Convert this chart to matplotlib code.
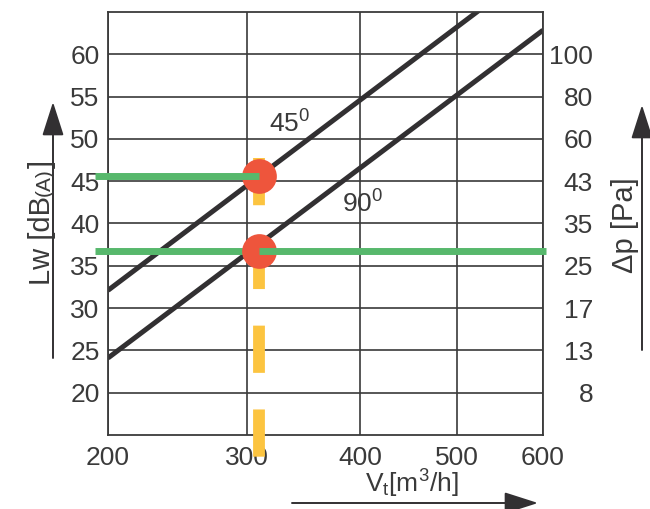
import numpy as np
import matplotlib
matplotlib.use("Agg")
import matplotlib.pyplot as plt

plt.rcParams['font.family'] = ['Liberation Sans', 'DejaVu Sans']
plt.rcParams['mathtext.fontset'] = 'custom'
plt.rcParams['mathtext.rm'] = 'Liberation Sans'
plt.rcParams['mathtext.it'] = 'Liberation Sans'

# ── data ──────────────────────────────────────────────────────────────────────
flow_ticks = [200, 300, 400, 500, 600]          # V_t [m3/h]
lw_ticks   = [20, 25, 30, 35, 40, 45, 50, 55, 60]  # Lw [dB(A)]
dp_labels  = ["8", "13", "17", "25", "35", "43", "60", "80", "100"]  # Δp [Pa]

line_x   = [200, 600]
line_45  = [32.1, 70.9]
line_90  = [24.1, 62.85]

op_flow  = 310          # operating point flow
op_lw    = [45.6, 36.7] # Lw read at 45° and 90°
guide_x0 = 192          # green guide lines start (left of axis)
guide_x1 = 604          # lower guide runs to the right edge
dash_y   = [47.7, 11.8]

INK   = "#3a3a3a"
DARK  = "#323032"
GREEN = "#57b86c"
RED   = "#ee553c"
GOLD  = "#fcc440"

W, H = 650, 509
fig = plt.figure(figsize=(W / 100, H / 100), dpi=100)
ax = fig.add_axes([108 / W, (H - 435) / H, 435 / W, 423 / H])

# slightly compressed flow axis (the chart is neither linear nor log)
ax.set_xscale("function", functions=(lambda v: np.power(np.abs(v), 0.4),
                                     lambda v: np.power(np.abs(v), 2.5)))
ax.set_xlim(200, 600)
ax.set_ylim(15, 65)
ax.set_xticks(flow_ticks)
ax.set_xticklabels([str(v) for v in flow_ticks])
ax.set_yticks(lw_ticks)
ax.set_yticklabels([str(v) for v in lw_ticks])
ax.xaxis.set_minor_locator(matplotlib.ticker.NullLocator())
ax.tick_params(length=0, labelsize=19, colors=INK)
ax.tick_params(axis="y", pad=6)
ax.tick_params(axis="x", pad=8)
ax.grid(True, color=INK, linewidth=1.2)
ax.set_axisbelow(True)
for sp in ax.spines.values():
    sp.set_color(INK)
    sp.set_linewidth(1.3)

ax2 = ax.twinx()
ax2.set_ylim(ax.get_ylim())
ax2.set_yticks(lw_ticks)
ax2.set_yticklabels(dp_labels, ha="right")
ax2.tick_params(length=0, labelsize=19, colors=INK, pad=36)
for sp in ax2.spines.values():
    sp.set_visible(False)

# ── curves ────────────────────────────────────────────────────────────────────
ax.plot(line_x, line_45, color=DARK, linewidth=3.6, solid_capstyle="butt", zorder=2)
ax.plot(line_x, line_90, color=DARK, linewidth=3.6, solid_capstyle="butt", zorder=2)
ax.text(336, 51.8, r"45$^\mathregular{0}$", fontsize=19, color=INK, ha="center", va="center")
ax.text(403, 42.3, r"90$^\mathregular{0}$", fontsize=19, color=INK, ha="center", va="center")

# ── operating point overlay ───────────────────────────────────────────────────
ax.plot([op_flow, op_flow], dash_y, color=GOLD, linewidth=8.5,
        linestyle=(0, (4.0, 3.1)), dash_capstyle="butt", clip_on=False, zorder=3)
ax.plot([guide_x0, op_flow], [op_lw[1], op_lw[1]], color=GREEN, linewidth=5,
        solid_capstyle="butt", clip_on=False, zorder=3.5)
ax.plot([op_flow] * 2, op_lw, "o", color=RED, markersize=25, markeredgewidth=0,
        clip_on=False, zorder=4)
ax.plot([guide_x0, op_flow], [op_lw[0], op_lw[0]], color=GREEN, linewidth=5,
        solid_capstyle="butt", clip_on=False, zorder=5)
ax.plot([op_flow, guide_x1], [op_lw[1], op_lw[1]], color=GREEN, linewidth=5,
        solid_capstyle="butt", clip_on=False, zorder=5)

# ── axis titles and arrows (figure pixels, origin bottom-left) ───────────────
def arrow(tail, tip):
    ax.annotate("", xy=(tip[0], H - tip[1]), xytext=(tail[0], H - tail[1]),
                xycoords="figure pixels", textcoords="figure pixels",
                arrowprops=dict(arrowstyle="-|>,head_length=1.0,head_width=0.32",
                                mutation_scale=21, color=DARK, lw=1.4,
                                shrinkA=0, shrinkB=0))

arrow((53, 358), (53, 102))
arrow((642, 350), (642, 105))
arrow((292, 503), (538, 503))

fig.canvas.draw()
rend = fig.canvas.get_renderer()

# "Lw [dB(A)]" with a smaller (A), placed piece by piece along the baseline
y = H - 285
for txt, size in [("Lw [dB", 21), ("(A)", 15), ("]", 21)]:
    t = fig.text(50 / W, y / H, txt, fontsize=size, color=INK, rotation=90,
                 rotation_mode="anchor", ha="left", va="baseline")
    y += t.get_window_extent(rend).height

fig.text(633 / W, (H - 273) / H, "Δp [Pa]", fontsize=21, color=INK, rotation=90,
         rotation_mode="anchor", ha="left", va="baseline")
fig.text(412 / W, (H - 493) / H, r"V$_\mathregular{t}$[m$^\mathregular{3}$/h]",
         fontsize=19, color=INK, ha="center", va="baseline")

fig.savefig("out.png", dpi=100)
